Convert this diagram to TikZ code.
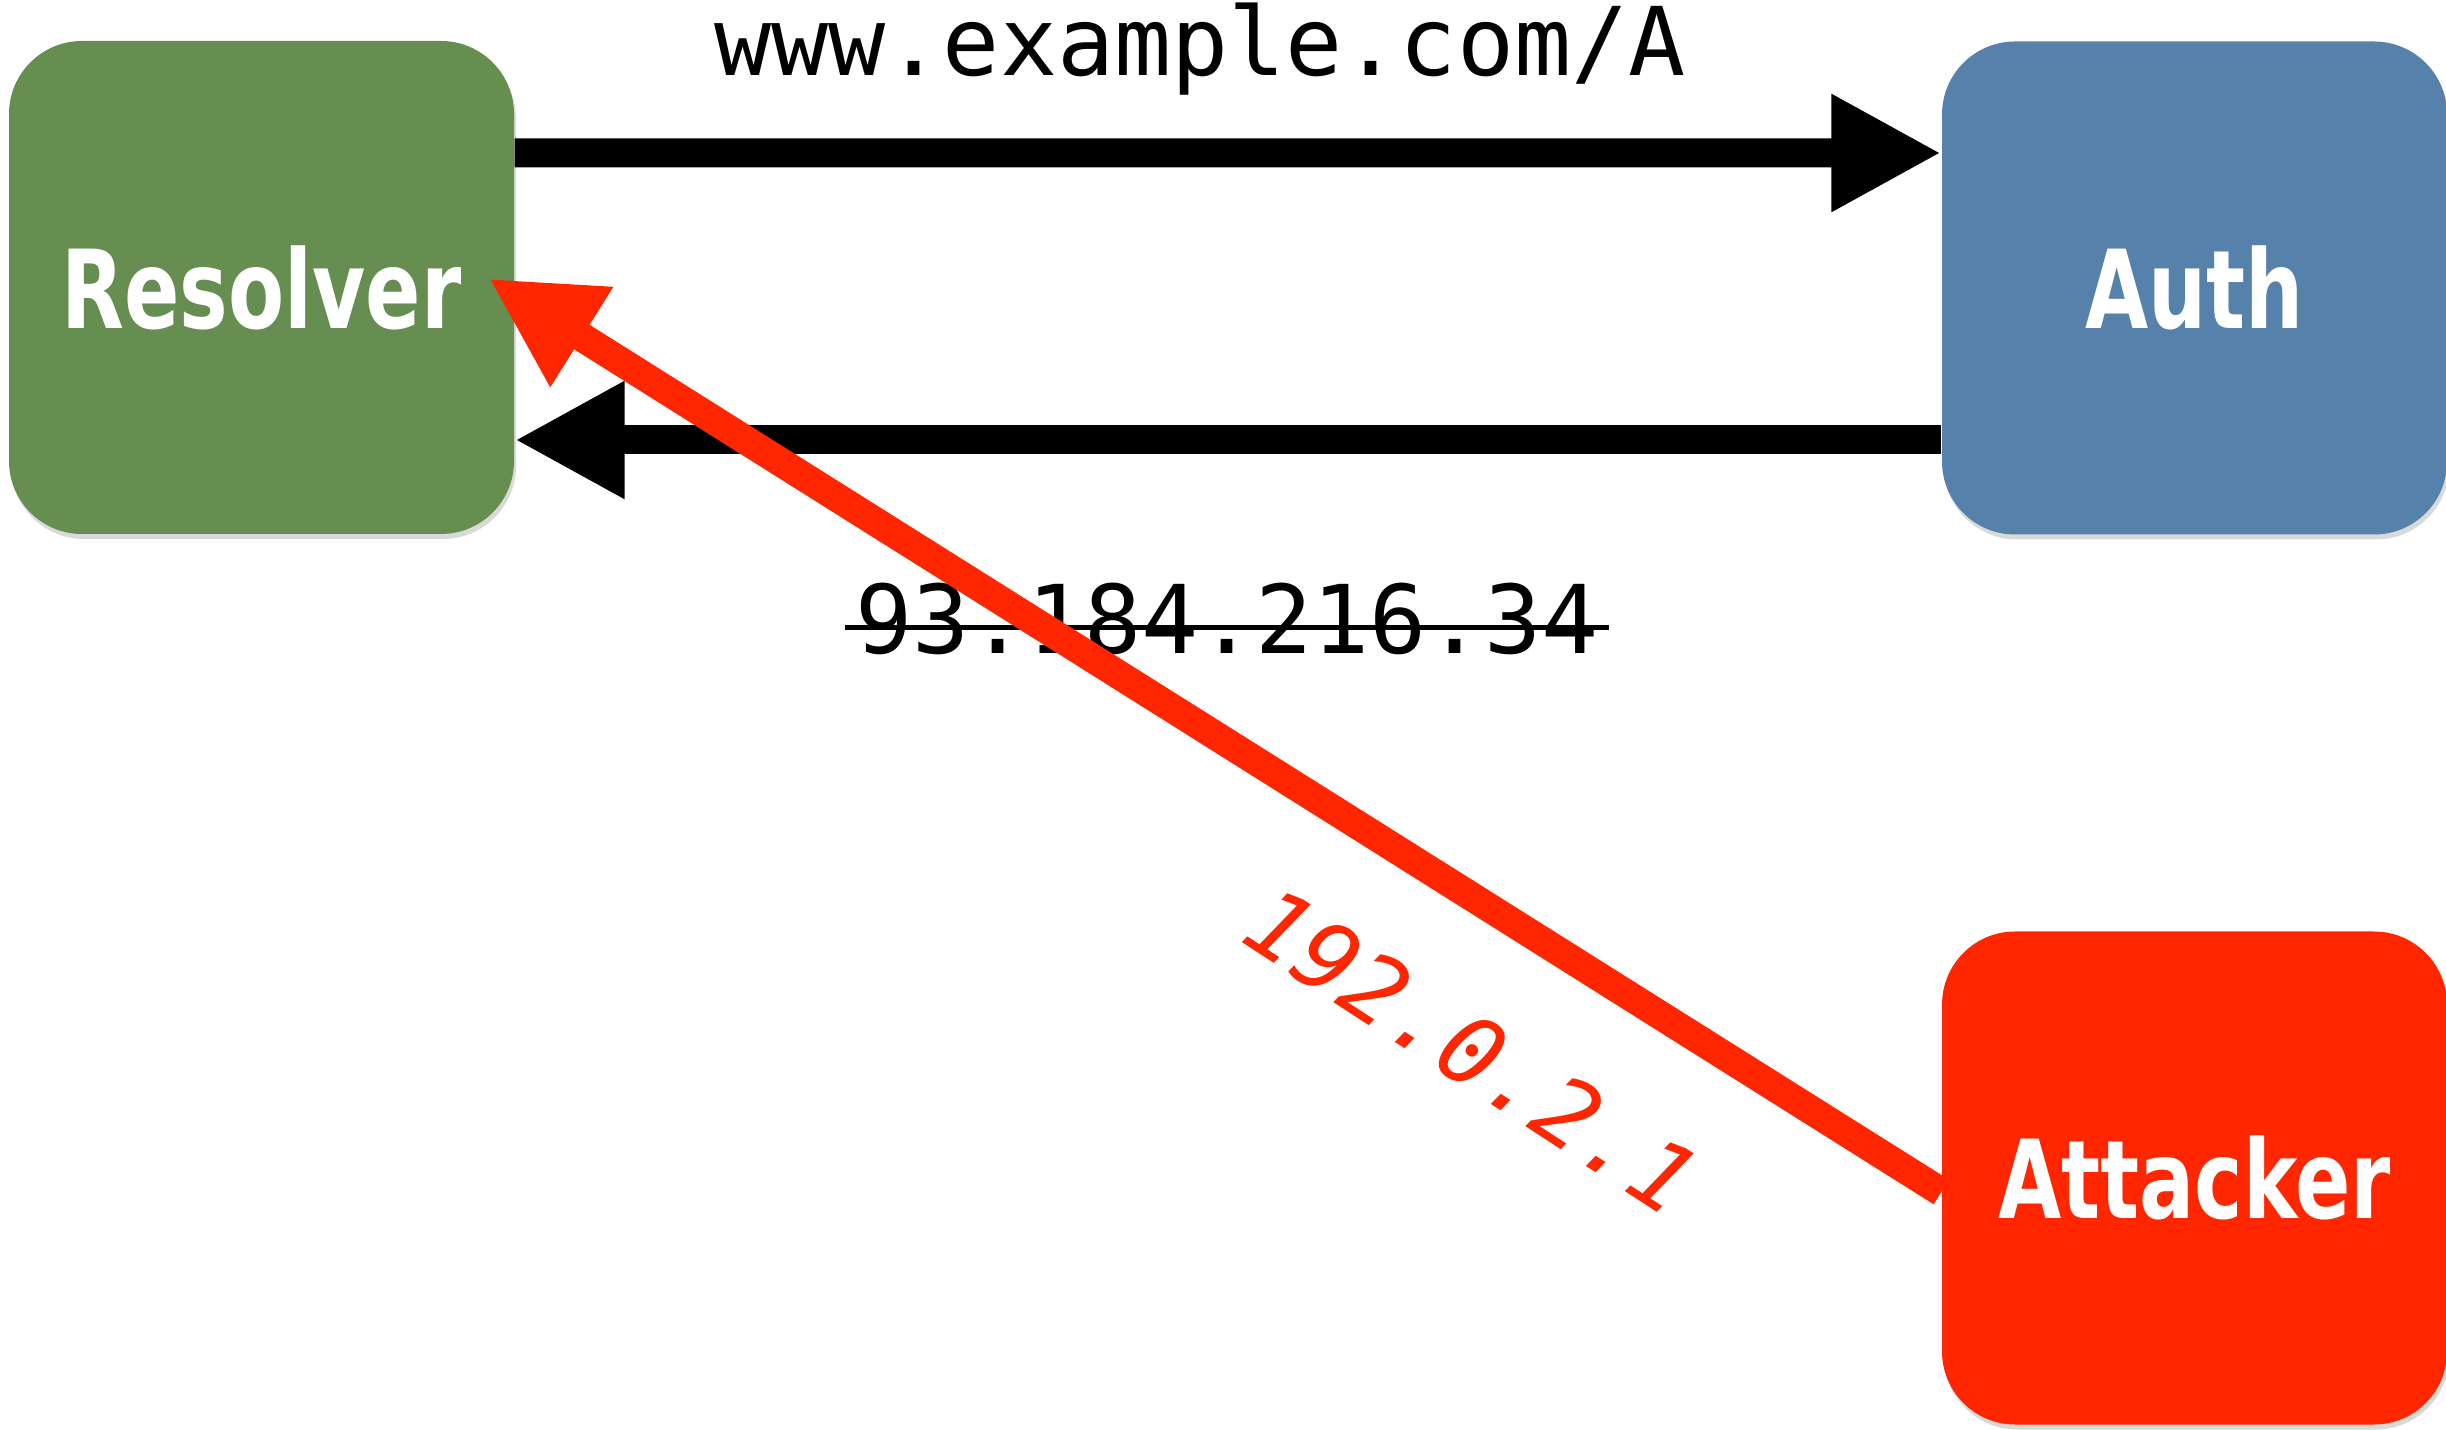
\documentclass[tikz,border=0pt]{standalone}
\usepackage{fontspec}
\setmonofont{DejaVu Sans Mono}
\newfontfamily\boxfont[FakeStretch=0.75]{DejaVu Sans}
\usetikzlibrary{arrows.meta,shadows}
\definecolor{resgreen}{RGB}{101,142,80}
\definecolor{authblue}{RGB}{85,129,171}
\definecolor{evilred}{RGB}{255,38,0}
\tikzstyle{box}=[rounded corners=0.73cm,minimum width=5.05cm,minimum height=4.93cm,inner sep=0pt,text=white,font=\boxfont\bfseries\fontsize{31}{34}\selectfont,drop shadow={opacity=0.3,shadow xshift=0.02cm,shadow yshift=-0.05cm}]
\tikzstyle{msg}=[line width=0.29cm,-{Triangle[length=1.1cm,width=1.1cm]}]
\tikzstyle{addr}=[inner sep=0pt,font=\ttfamily\fontsize{27}{30}\selectfont]

\begin{document}
\begin{tikzpicture}
\useasboundingbox (0,0) rectangle (24.46,14.29);
\node[box,fill=resgreen] (resolver) at (2.615,11.415) {Resolver};
\node[box,fill=authblue] (auth) at (21.945,11.41) {Auth};
\node[box,fill=evilred] (attacker) at (21.945,2.51) {Attacker};
\draw[msg] ([yshift=1.345cm]resolver.east)--([yshift=1.35cm]auth.west);
\draw[msg] ([yshift=-1.52cm]auth.west)--([yshift=-1.525cm]resolver.east);
\node[addr,anchor=base] (query) at (12,13.53) {www.example.com/A};
\node[addr,anchor=base] (answer) at (12.27,7.75) {93.184.216.34};
\draw[line width=0.05cm] ([shift={(-0.1,0.26)}]answer.base west)--([shift={(0.1,0.26)}]answer.base east);
\coordinate (hit) at ([shift={(-0.26,0.09)}]resolver.east);
\draw[msg,evilred] ([yshift=-0.14cm]attacker.west)--(hit);
\node[addr,text=evilred,font=\ttfamily\itshape\fontsize{27}{30}\selectfont,rotate=-33] (spoof) at (14.72,3.78) {192.0.2.1};
\end{tikzpicture}
\end{document}
